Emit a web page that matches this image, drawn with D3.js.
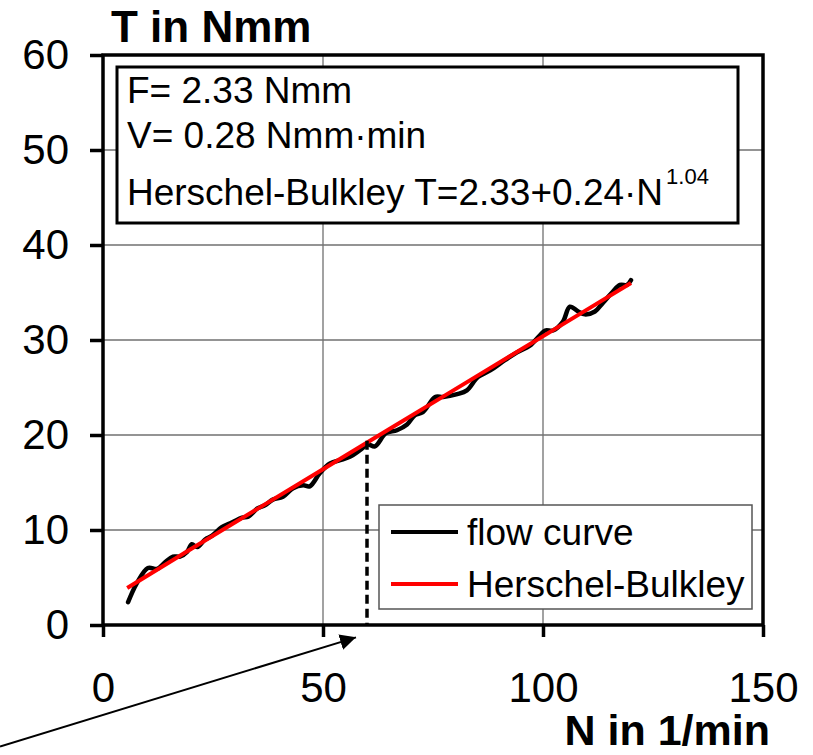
<!DOCTYPE html>
<html>
<head>
<meta charset="utf-8">
<script src="https://cdn.jsdelivr.net/npm/d3@7"></script>
<style>
  body { margin: 0; background: #fff; }
  svg { display: block; font-family: "Liberation Sans", Arial, sans-serif; }
</style>
</head>
<body>
<svg id="chart" width="813" height="755"></svg>
<script>
// ---- data ----
const xTicks = [0, 50, 100, 150];
const yTicks = [0, 10, 20, 30, 40, 50, 60];
const xGrid = [50, 100];
const yGrid = [10, 20, 30, 40, 50];

// measured flow curve (N in 1/min, T in Nmm)
const flowN = [5.7, 7.7, 10.2, 12.3, 14.1, 15.9, 17.5, 19.1, 20.2, 21.4, 23.2, 24.8, 27.0, 28.9, 31.6, 33.0, 35.2, 36.8, 38.6, 40.9, 43.2, 45.5, 47.0, 49.3, 51.6, 54.3, 56.1, 58.4, 60.2, 61.8, 64.3, 66.8, 69.1, 70.9, 72.7, 75.5, 77.3, 80.5, 82.7, 85.2, 88.0, 91.4, 94.1, 97.0, 99.3, 100.5, 102.3, 104.5, 106.1, 108.0, 109.5, 111.8, 113.6, 115.7, 117.5, 119.1, 120.0];
const flowT = [2.4, 4.4, 6.0, 5.9, 6.6, 7.2, 7.2, 7.7, 8.5, 8.2, 9.0, 9.4, 10.3, 10.7, 11.3, 11.4, 12.3, 12.6, 13.2, 13.5, 14.4, 14.7, 14.6, 16.0, 17.0, 17.4, 17.7, 18.4, 19.0, 18.8, 20.2, 20.5, 21.1, 22.1, 22.4, 24.0, 24.0, 24.3, 24.7, 26.1, 26.8, 27.9, 28.7, 29.4, 30.5, 31.0, 31.0, 31.9, 33.5, 33.0, 32.7, 33.0, 33.9, 35.0, 35.8, 35.8, 36.3];

// Herschel-Bulkley fit
const hbN = [5.5, 20, 35, 50, 65, 80, 95, 110, 120];
const hbT = [3.9, 8.0, 12.2, 16.4, 20.6, 24.8, 29.0, 33.2, 36.0];

// dashed marker and arrow annotation (data units)
const markN = 60, markT = 19.4;
const arrowFrom = [-23.4, -12.8];
const arrowTo = [57.5, -1.3];

const boxLines = ["F= 2.33 Nmm", "V= 0.28 Nmm·min"];
const hbLabel = "Herschel-Bulkley T=2.33+0.24·N";
const hbExp = "1.04";
const legendItems = [{ label: "flow curve", color: "#000000" }, { label: "Herschel-Bulkley", color: "#ff0000" }];

// ---- drawing ----
const svg = d3.select("#chart");
const x = d3.scaleLinear().domain([0, 150]).range([103, 763]);
const y = d3.scaleLinear().domain([0, 60]).range([625, 55]);

svg.append("defs").append("marker")
  .attr("id", "arrowhead").attr("viewBox", "0 0 10 10")
  .attr("refX", 10).attr("refY", 5)
  .attr("markerWidth", 8).attr("markerHeight", 8)
  .attr("markerUnits", "strokeWidth")
  .attr("orient", "auto")
  .append("path").attr("d", "M0,0 L10,5 L0,10 Z").attr("fill", "#000");

// grid
svg.append("g").selectAll("line").data(xGrid).join("line")
  .attr("x1", d => x(d)).attr("x2", d => x(d))
  .attr("y1", y(60)).attr("y2", y(0))
  .attr("stroke", "#707070").attr("stroke-width", 1.3);
svg.append("g").selectAll("line").data(yGrid).join("line")
  .attr("x1", x(0)).attr("x2", x(150))
  .attr("y1", d => y(d)).attr("y2", d => y(d))
  .attr("stroke", "#707070").attr("stroke-width", 1.3);

// curves
const flow = flowN.map((n, i) => [n, flowT[i]]);
const hb = hbN.map((n, i) => [n, hbT[i]]);
const line = d3.line().x(d => x(d[0])).y(d => y(d[1])).curve(d3.curveCatmullRom.alpha(0.5));

svg.append("path").datum(flow).attr("d", line)
  .attr("fill", "none").attr("stroke", "#000").attr("stroke-width", 4.5)
  .attr("stroke-linejoin", "round").attr("stroke-linecap", "round");
svg.append("path").datum(hb).attr("d", d3.line().x(d => x(d[0])).y(d => y(d[1])))
  .attr("fill", "none").attr("stroke", "#ff0000").attr("stroke-width", 4);

// dashed marker
svg.append("line")
  .attr("x1", x(markN)).attr("x2", x(markN))
  .attr("y1", y(markT)).attr("y2", y(0))
  .attr("stroke", "#000").attr("stroke-width", 3.5).attr("stroke-dasharray", "9,5");

// frame
svg.append("rect")
  .attr("x", x(0)).attr("y", y(60))
  .attr("width", x(150) - x(0)).attr("height", y(0) - y(60))
  .attr("fill", "none").attr("stroke", "#000").attr("stroke-width", 3.5);

// axes
const yAxis = svg.append("g").attr("transform", `translate(${x(0)},0)`)
  .call(d3.axisLeft(y).tickValues(yTicks).tickSize(13).tickPadding(21));
const xAxis = svg.append("g").attr("transform", `translate(0,${y(0)})`)
  .call(d3.axisBottom(x).tickValues(xTicks).tickSize(12).tickPadding(35));
[yAxis, xAxis].forEach(g => {
  g.select(".domain").remove();
  g.selectAll(".tick line").attr("stroke", "#000").attr("stroke-width", 3.5);
  g.selectAll(".tick text").attr("font-size", 42).attr("fill", "#000")
    .attr("font-family", "'Liberation Sans', Arial, sans-serif");
});

// axis titles
svg.append("text").attr("x", 111).attr("y", 42)
  .attr("font-size", 44).attr("font-weight", "bold").text("T in Nmm");
svg.append("text").attr("x", 770).attr("y", 745).attr("text-anchor", "end")
  .attr("font-size", 43).attr("font-weight", "bold").text("N in 1/min");

// parameter box
svg.append("rect").attr("x", 117).attr("y", 67).attr("width", 621).attr("height", 156)
  .attr("fill", "#fff").attr("stroke", "#000").attr("stroke-width", 3);
const boxY = [103, 148];
boxLines.forEach((t, i) => {
  svg.append("text").attr("x", 127).attr("y", boxY[i]).attr("font-size", 37).text(t);
});
const hbText = svg.append("text").attr("x", 127).attr("y", 205).attr("font-size", 37);
hbText.append("tspan").text(hbLabel);
hbText.append("tspan").attr("font-size", 22).attr("dy", -21).attr("dx", 3).text(hbExp);

// legend
const lg = svg.append("g");
lg.append("rect").attr("x", 379).attr("y", 505).attr("width", 373).attr("height", 104)
  .attr("fill", "#fff").attr("stroke", "#555").attr("stroke-width", 1.5);
const legY = [532, 584];
legendItems.forEach((d, i) => {
  lg.append("line").attr("x1", 391).attr("x2", 458).attr("y1", legY[i]).attr("y2", legY[i])
    .attr("stroke", d.color).attr("stroke-width", 4);
  lg.append("text").attr("x", 467).attr("y", legY[i] + 13).attr("font-size", 37).text(d.label);
});

// arrow
svg.append("line")
  .attr("x1", x(arrowFrom[0])).attr("y1", y(arrowFrom[1]))
  .attr("x2", x(arrowTo[0])).attr("y2", y(arrowTo[1]))
  .attr("stroke", "#000").attr("stroke-width", 2)
  .attr("marker-end", "url(#arrowhead)");
</script>
</body>
</html>
